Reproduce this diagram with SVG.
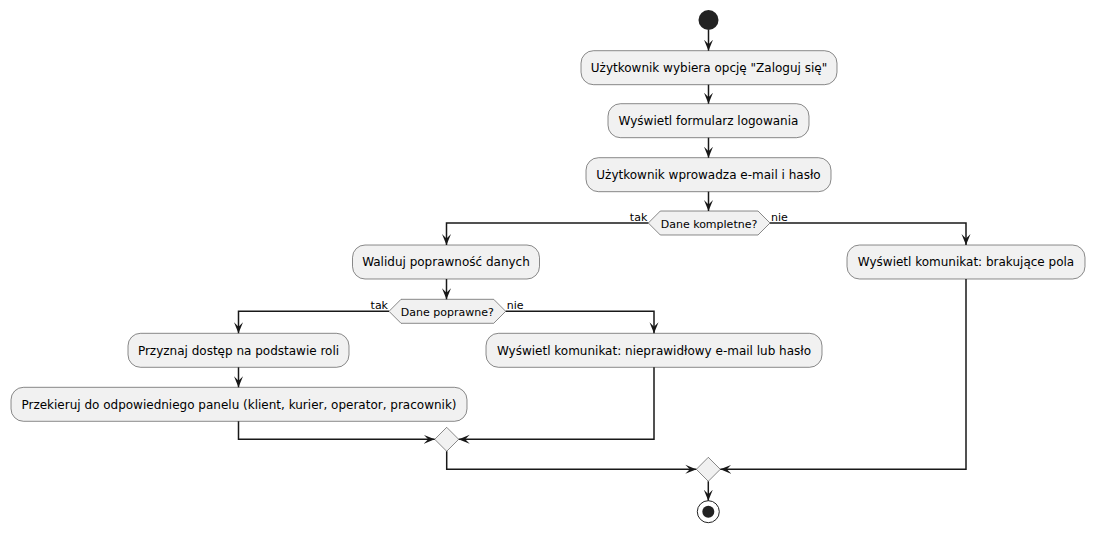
<svg xmlns="http://www.w3.org/2000/svg" width="1094" height="533" viewBox="0 0 1094 533">
<style>
.box{fill:#F1F1F1;stroke:#181818;stroke-width:0.5}
.t{font-family:"DejaVu Sans",sans-serif;font-size:12px;fill:#000;text-anchor:middle}
.d{font-family:"DejaVu Sans",sans-serif;font-size:11px;fill:#000;text-anchor:middle}
.l{font-family:"DejaVu Sans",sans-serif;font-size:11px;fill:#000}
.c{fill:none;stroke:#181818;stroke-width:1.5}
</style>
<defs>
<marker id="ah" markerUnits="userSpaceOnUse" markerWidth="11" markerHeight="10" viewBox="0 0 11 10" refX="11" refY="5" orient="auto">
<path d="M0,0.5 L11,5 L0,9.5 L4.5,5 Z" fill="#181818"/>
</marker>
</defs>
<rect width="1094" height="533" fill="#FFFFFF"/>
<g id="start"><circle cx="708.5" cy="20" r="10" fill="#222222"/></g>
<g id="n1"><rect class="box" x="581" y="50.7" width="256" height="34" rx="12.5"/><text class="t" x="709" y="72">Użytkownik wybiera opcję "Zaloguj się"</text></g>
<g id="n2"><rect class="box" x="608" y="103.7" width="201" height="34" rx="12.5"/><text class="t" x="708.5" y="125">Wyświetl formularz logowania</text></g>
<g id="n3"><rect class="box" x="586" y="157.7" width="245" height="34" rx="12.5"/><text class="t" x="708.5" y="179">Użytkownik wprowadza e-mail i hasło</text></g>
<g id="d1"><polygon class="box" points="648.3,223 660.3,211 758,211 770,223 758,235 660.3,235"/><text class="d" x="709" y="227.5">Dane kompletne?</text></g>
<g id="n4"><rect class="box" x="352.5" y="245" width="187" height="34" rx="12.5"/><text class="t" x="446" y="266.3">Waliduj poprawność danych</text></g>
<g id="n5"><rect class="box" x="847" y="245" width="238" height="34" rx="12.5"/><text class="t" x="966" y="266.3">Wyświetl komunikat: brakujące pola</text></g>
<g id="d2"><polygon class="box" points="389,311.3 401,299.3 493.7,299.3 505.7,311.3 493.7,323.3 401,323.3"/><text class="d" x="447.3" y="315.8">Dane poprawne?</text></g>
<g id="n6"><rect class="box" x="128" y="333.3" width="221" height="34" rx="12.5"/><text class="t" x="238.5" y="354.6">Przyznaj dostęp na podstawie roli</text></g>
<g id="n7"><rect class="box" x="486" y="333.3" width="336" height="34" rx="12.5"/><text class="t" x="654" y="354.6">Wyświetl komunikat: nieprawidłowy e-mail lub hasło</text></g>
<g id="n8"><rect class="box" x="11" y="387.3" width="456" height="34" rx="12.5"/><text class="t" x="239" y="408.6">Przekieruj do odpowiedniego panelu (klient, kurier, operator, pracownik)</text></g>
<g id="m1"><polygon class="box" points="446.7,427.3 458.7,439.3 446.7,451.3 434.7,439.3"/></g>
<g id="m2"><polygon class="box" points="708.3,457.3 720.3,469.3 708.3,481.3 696.3,469.3"/></g>
<g id="end"><circle cx="708.3" cy="511.7" r="11" fill="none" stroke="#222222" stroke-width="1"/><circle cx="708.3" cy="511.7" r="6" fill="#222222"/></g>
<g id="connectors">
<path class="c" marker-end="url(#ah)" d="M708.5,30 L708.5,50.7"/>
<path class="c" marker-end="url(#ah)" d="M708.5,84.7 L708.5,103.7"/>
<path class="c" marker-end="url(#ah)" d="M708.5,137.7 L708.5,157.7"/>
<path class="c" marker-end="url(#ah)" d="M708.5,191.7 L708.5,211"/>
<path class="c" marker-end="url(#ah)" d="M648.3,223 L446.5,223 L446.5,245"/>
<path class="c" marker-end="url(#ah)" d="M770,223 L966,223 L966,245"/>
<path class="c" marker-end="url(#ah)" d="M446.5,279 L446.5,299.3"/>
<path class="c" marker-end="url(#ah)" d="M389,311.3 L238.5,311.3 L238.5,333.3"/>
<path class="c" marker-end="url(#ah)" d="M505.7,311.3 L654,311.3 L654,333.3"/>
<path class="c" marker-end="url(#ah)" d="M238.5,367.3 L238.5,387.3"/>
<path class="c" marker-end="url(#ah)" d="M238.5,421.3 L238.5,439.3 L434.7,439.3"/>
<path class="c" marker-end="url(#ah)" d="M654,367.3 L654,439.3 L458.7,439.3"/>
<path class="c" marker-end="url(#ah)" d="M446.7,451.3 L446.7,469.3 L696.3,469.3"/>
<path class="c" marker-end="url(#ah)" d="M966,279 L966,469.3 L720.3,469.3"/>
<path class="c" marker-end="url(#ah)" d="M708.3,481.3 L708.3,500.7"/>
<text class="l" x="647.3" y="220.5" text-anchor="end">tak</text>
<text class="l" x="771" y="220.5">nie</text>
<text class="l" x="388" y="308.8" text-anchor="end">tak</text>
<text class="l" x="506.7" y="308.8">nie</text>
</g>
</svg>
